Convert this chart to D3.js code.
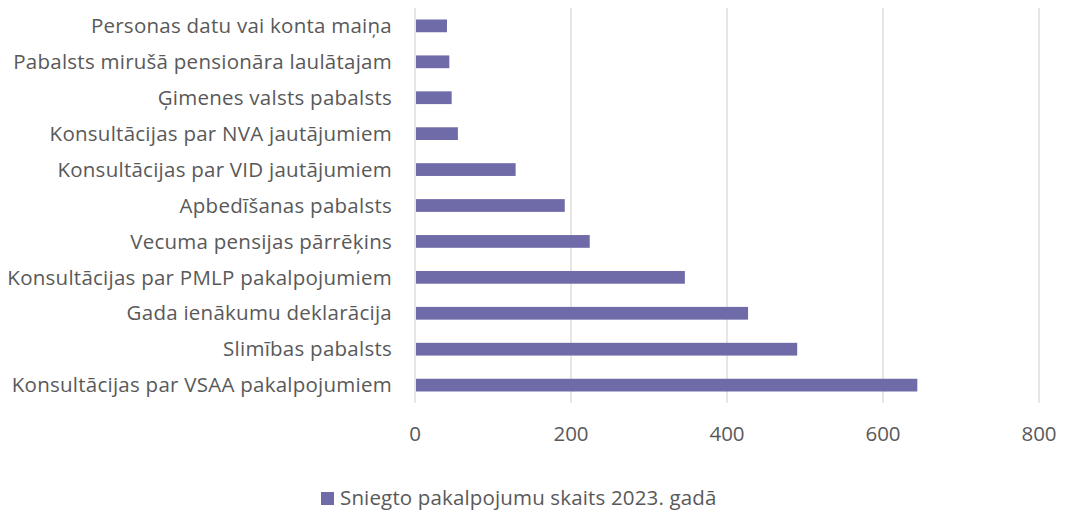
<!DOCTYPE html>
<html>
<head>
<meta charset="utf-8">
<script src="https://cdn.jsdelivr.net/npm/d3@7"></script>
<style>
  body { margin: 0; background: #fff; }
  text { font-family: "Open Sans", "Noto Sans", sans-serif; fill: #595959; font-size: 20.5px; }
</style>
</head>
<body>
<svg id="chart" width="1065" height="511"></svg>
<script>
// top to bottom
const categories = [
  "Personas datu vai konta maiņa",
  "Pabalsts mirušā pensionāra laulātajam",
  "Ģimenes valsts pabalsts",
  "Konsultācijas par NVA jautājumiem",
  "Konsultācijas par VID jautājumiem",
  "Apbedīšanas pabalsts",
  "Vecuma pensijas pārrēķins",
  "Konsultācijas par PMLP pakalpojumiem",
  "Gada ienākumu deklarācija",
  "Slimības pabalsts",
  "Konsultācijas par VSAA pakalpojumiem"
];
const values = [41, 44, 47, 55, 129, 192, 224, 346, 427, 490, 644];
const xTicks = [0, 200, 400, 600, 800];
const seriesName = "Sniegto pakalpojumu skaits 2023. gadā";

const svg = d3.select("#chart");
const plotLeft = 415, plotRight = 1039, plotTop = 8, plotBottom = 403;

const x = d3.scaleLinear().domain([0, 800]).range([plotLeft, plotRight]);
const y = d3.scaleBand().domain(categories).range([plotTop, plotBottom]).paddingInner(0.645).paddingOuter(0.32);

// gridlines
svg.append("g")
  .selectAll("line")
  .data(xTicks)
  .enter().append("line")
  .attr("x1", d => x(d)).attr("x2", d => x(d))
  .attr("y1", plotTop).attr("y2", plotBottom)
  .style("stroke", "#d9d9d9")
  .style("stroke-width", 1.3);

svg.append("g")
  .selectAll("rect")
  .data(values)
  .enter().append("rect")
  .attr("x", x(0) + 1)
  .attr("y", (d, i) => y(categories[i]))
  .attr("width", d => x(d) - x(0) - 1)
  .attr("height", y.bandwidth())
  .style("fill", "#6f6ba8");

// category labels
svg.append("g")
  .selectAll("text")
  .data(categories)
  .enter().append("text")
  .attr("x", 392)
  .attr("y", d => y(d) + y.bandwidth() / 2)
  .attr("dy", "0.35em")
  .attr("text-anchor", "end")
  .style("letter-spacing", "0.25px")
  .text(d => d);

// x tick labels
svg.append("g")
  .selectAll("text")
  .data(xTicks)
  .enter().append("text")
  .attr("x", d => x(d))
  .attr("y", 434)
  .attr("dy", "0.35em")
  .attr("text-anchor", "middle")
  .text(d => d);

// legend
const legend = svg.append("g");
legend.append("rect")
  .attr("x", 321).attr("y", 492)
  .attr("width", 13).attr("height", 13)
  .style("fill", "#6f6ba8");
legend.append("text")
  .attr("x", 340).attr("y", 498)
  .attr("dy", "0.35em")
  .style("letter-spacing", "0.15px")
  .text(seriesName);
</script>
</body>
</html>
